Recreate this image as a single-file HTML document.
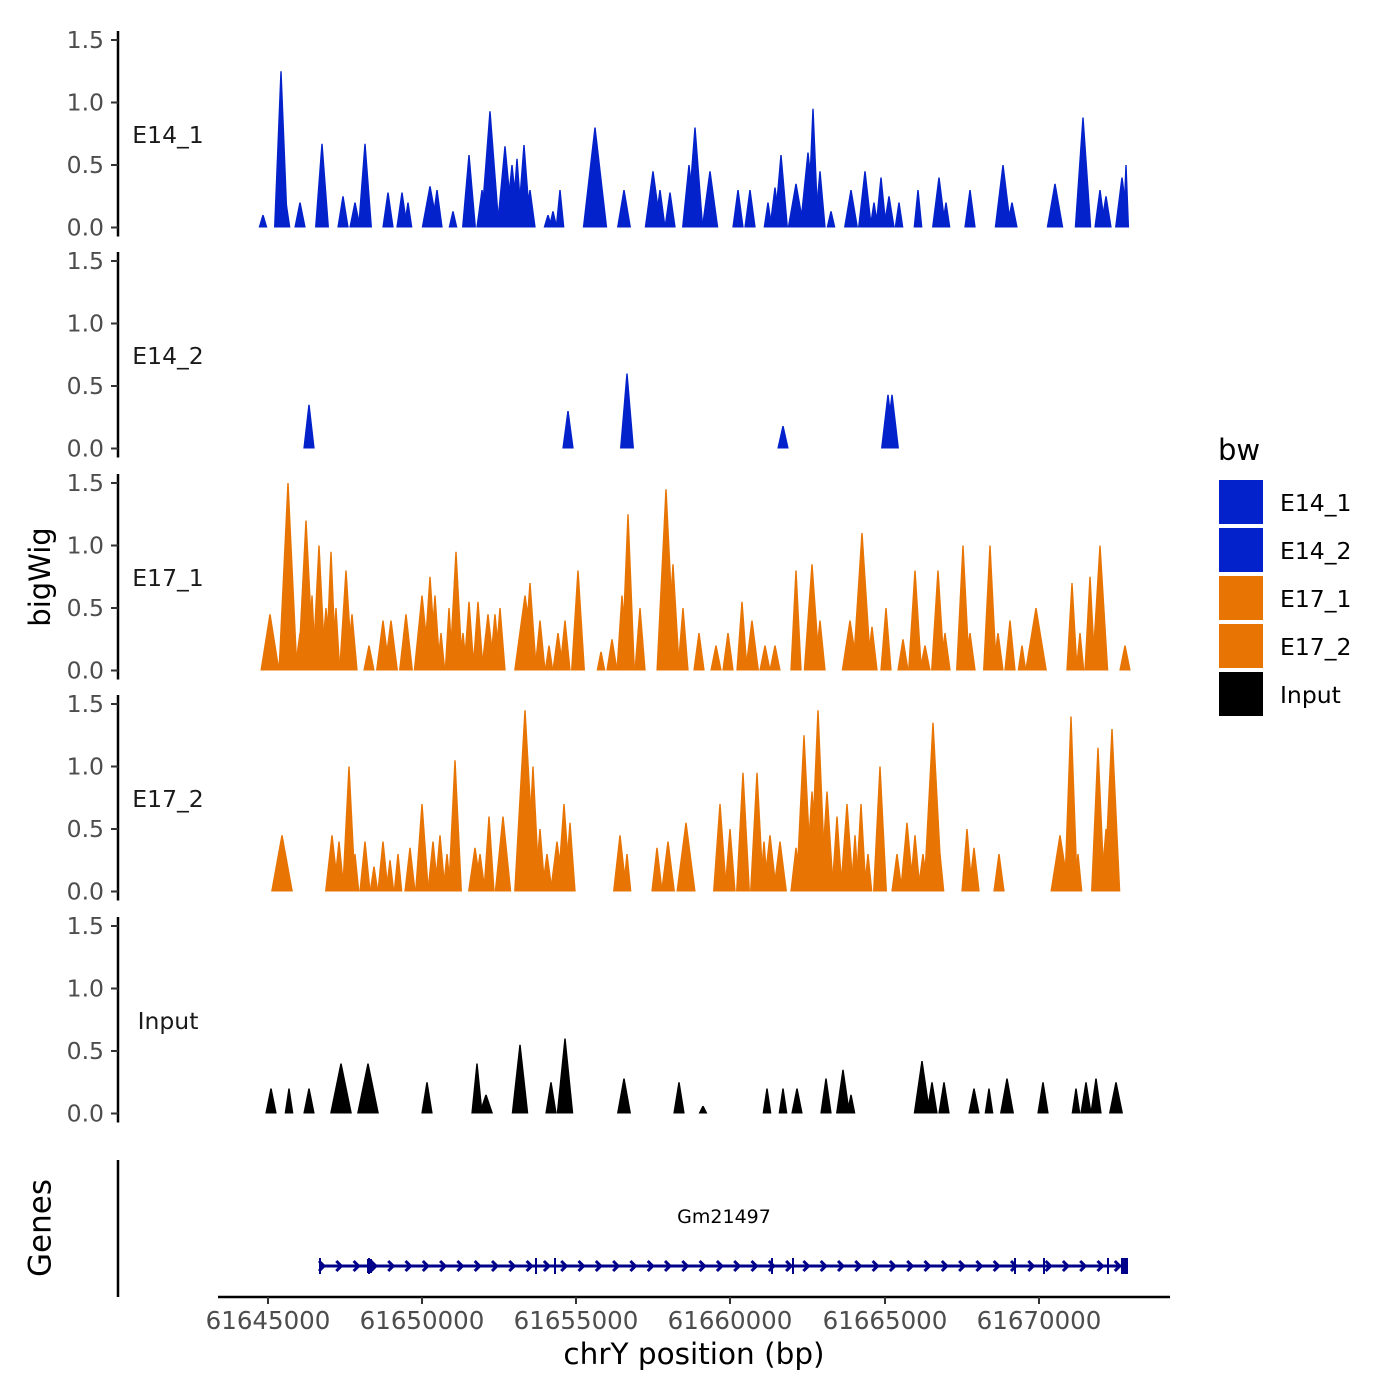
<!DOCTYPE html>
<html><head><meta charset="utf-8"><style>
html,body{margin:0;padding:0;background:#fff;}
svg{display:block;font-family:"DejaVu Sans","Liberation Sans",sans-serif;}
</style></head><body>
<svg id="s" width="1400" height="1400" viewBox="0 0 1400 1400" xmlns="http://www.w3.org/2000/svg">
<rect width="1400" height="1400" fill="#fff"/>
<g id="g"></g>
<text x="42" y="577" font-size="29" text-anchor="middle" dominant-baseline="middle" transform="rotate(-90 42 577)" fill="#000">bigWig</text>
<text x="42" y="1228" font-size="31" text-anchor="middle" dominant-baseline="middle" transform="rotate(-90 42 1228)" fill="#000">Genes</text>
<line x1="118" y1="1160" x2="118" y2="1297" stroke="#000" stroke-width="2.5"/>
<line x1="218" y1="1297" x2="1170" y2="1297" stroke="#000" stroke-width="2.5"/>
<text x="724" y="1223" font-size="19" text-anchor="middle" fill="#000">Gm21497</text>
<line x1="320" y1="1266" x2="1127" y2="1266" stroke="#00008b" stroke-width="3"/>
<g font-size="24.5" fill="#4d4d4d" text-anchor="middle">
<text x="268" y="1329">61645000</text><text x="422" y="1329">61650000</text>
<text x="576" y="1329">61655000</text><text x="730" y="1329">61660000</text>
<text x="885" y="1329">61665000</text><text x="1039" y="1329">61670000</text>
</g>
<g stroke="#333" stroke-width="2">
<line x1="268" y1="1297" x2="268" y2="1304"/><line x1="422" y1="1297" x2="422" y2="1304"/>
<line x1="576" y1="1297" x2="576" y2="1304"/><line x1="730" y1="1297" x2="730" y2="1304"/>
<line x1="885" y1="1297" x2="885" y2="1304"/><line x1="1039" y1="1297" x2="1039" y2="1304"/>
</g>
<text x="694" y="1364" font-size="29.5" text-anchor="middle" fill="#000">chrY position (bp)</text>
<text x="1218" y="460" font-size="29" fill="#000">bw</text>
<rect x="1219" y="480" width="44" height="44" fill="#0322cc"/>
<rect x="1219" y="528" width="44" height="44" fill="#0322cc"/>
<rect x="1219" y="576" width="44" height="44" fill="#e87403"/>
<rect x="1219" y="624" width="44" height="44" fill="#e87403"/>
<rect x="1219" y="672" width="44" height="44" fill="#000"/>
<g font-size="23.5" fill="#000">
<text x="1280" y="511">E14_1</text><text x="1280" y="559">E14_2</text>
<text x="1280" y="607">E17_1</text><text x="1280" y="655">E17_2</text>
<text x="1280" y="703">Input</text>
</g>
</svg>
<script>
var NS="http://www.w3.org/2000/svg",g=document.getElementById("g");
function el(t,a,txt){var e=document.createElementNS(NS,t);for(var k in a)e.setAttribute(k,a[k]);if(txt)e.textContent=txt;g.appendChild(e);return e;}
var B="#0322cc",O="#e87403",K="#000";
var tracks=[
["E14_1",B,[[263,.1,3],[281,1.25,5],[286,.2,3],[300,.2,4],[322,.67,5],[343,.25,4],[355,.2,4],[365,.67,5],[388,.28,4],[402,.28,4],[408,.2,3],[430,.33,6],[437,.3,4],[453,.13,3],[469,.58,5],[482,.3,4],[490,.93,7],[497,.15,3],[505,.65,6],[512,.5,5],[517,.55,4],[524,.66,5],[530,.3,4],[548,.1,3],[553,.13,3],[560,.3,3],[595,.8,9],[624,.3,5],[653,.45,6],[660,.3,4],[670,.28,4],[689,.5,5],[695,.8,6],[710,.45,6],[738,.3,4],[750,.3,4],[768,.2,3],[775,.32,4],[781,.58,5],[796,.35,6],[808,.6,6],[813,.95,4],[820,.45,4],[831,.13,3],[851,.3,5],[865,.45,5],[874,.2,3],[881,.4,4],[889,.25,4],[899,.2,3],[918,.3,3],[939,.4,5],[946,.2,3],[970,.3,4],[1003,.5,6],[1012,.2,4],[1055,.35,6],[1083,.88,6],[1100,.3,4],[1106,.25,4],[1122,.4,5],[1126,.5,2]]],
["E14_2",B,[[309,.35,4],[568,.3,4],[627,.6,5],[783,.18,4],[888,.43,5],[892,.43,5]]],
["E17_1",O,[[270,.45,7],[284,.6,4],[288,1.5,7],[300,.3,4],[306,1.2,6],[312,.6,3],[319,1.0,5],[326,.5,4],[331,.95,4],[336,.5,3],[346,.8,5],[352,.45,4],[369,.2,4],[383,.4,5],[391,.4,5],[406,.45,5],[422,.6,6],[430,.75,5],[435,.6,4],[441,.3,3],[449,.5,3],[456,.95,5],[463,.3,3],[469,.55,4],[478,.55,4],[488,.45,5],[495,.45,4],[500,.5,4],[525,.6,8],[530,.7,5],[540,.4,4],[549,.2,3],[558,.3,4],[565,.4,4],[578,.8,5],[601,.15,3],[612,.25,4],[622,.6,4],[628,1.25,5],[640,.5,4],[666,1.45,7],[673,.85,5],[683,.5,4],[699,.3,4],[716,.2,4],[728,.3,4],[742,.55,4],[752,.4,5],[765,.2,4],[775,.2,4],[796,.8,4],[812,.85,6],[820,.4,4],[850,.4,6],[862,1.1,7],[872,.35,4],[886,.5,4],[903,.25,4],[915,.8,5],[925,.2,4],[938,.8,5],[945,.3,4],[963,1.0,5],[970,.3,4],[990,1.0,5],[998,.3,4],[1010,.4,4],[1022,.2,3],[1036,.5,8],[1072,.7,4],[1080,.3,3],[1090,.75,4],[1100,1.0,6],[1125,.2,4]]],
["E17_2",O,[[282,.45,8],[332,.45,5],[339,.4,4],[349,1.0,5],[355,.3,3],[365,.4,4],[374,.2,3],[383,.4,4],[390,.25,3],[398,.3,3],[410,.35,4],[422,.7,5],[433,.4,4],[440,.45,4],[447,.3,3],[455,1.05,5],[475,.35,5],[480,.3,4],[489,.6,4],[503,.6,6],[525,1.45,8],[533,1.0,5],[540,.5,4],[547,.3,4],[557,.4,5],[564,.7,5],[570,.55,4],[620,.45,5],[627,.3,3],[657,.35,4],[668,.4,5],[686,.55,7],[720,.7,5],[730,.5,4],[743,.95,5],[757,.95,5],[764,.4,3],[770,.45,5],[780,.4,5],[796,.35,4],[804,1.25,6],[812,.8,5],[818,1.45,6],[827,.8,5],[837,.6,4],[847,.7,5],[855,.45,3],[861,.7,4],[868,.3,3],[880,1.0,5],[897,.3,4],[907,.55,5],[915,.45,4],[923,.3,4],[933,1.35,7],[940,.3,3],[967,.5,4],[974,.35,4],[999,.3,4],[1060,.45,7],[1071,1.4,5],[1078,.3,3],[1098,1.15,5],[1106,.5,4],[1112,1.3,6]]],
["Input",K,[[271,.2,4],[289,.2,3],[309,.2,4],[341,.4,8],[368,.4,8],[427,.25,4],[477,.4,4],[486,.15,5],[520,.55,6],[551,.25,4],[565,.6,6],[624,.28,5],[679,.25,4],[703,.06,3],[767,.2,3],[783,.2,3],[797,.2,4],[826,.28,4],[843,.35,5],[851,.15,3],[922,.42,6],[932,.25,4],[944,.25,4],[974,.2,4],[989,.2,3],[1007,.28,5],[1043,.25,4],[1076,.2,3],[1086,.25,4],[1096,.28,4],[1116,.25,5]]]
];
var tops=[40,261,483,704,926],H=187.5;
tracks.forEach(function(t,i){
 var y0=tops[i]+H,sc=H/1.5;
 t[2].forEach(function(p){
  var w=p[2]*1.3+0.5;
  el("polygon",{points:(p[0]-w)+","+y0+" "+(p[0]-0.7)+","+(y0-p[1]*sc)+" "+(p[0]+0.7)+","+(y0-p[1]*sc)+" "+(p[0]+w)+","+y0,fill:t[1]});
 });
 el("line",{x1:118,y1:tops[i]-9,x2:118,y2:y0+9,stroke:"#000","stroke-width":2.5});
 for(var k=0;k<4;k++){var yy=y0-k*0.5*sc;
  el("line",{x1:111,y1:yy,x2:118,y2:yy,stroke:"#333","stroke-width":2});
  el("text",{x:104,y:yy+8,"font-size":23.5,fill:"#4d4d4d","text-anchor":"end"},(k*0.5).toFixed(1));}
 el("text",{x:168,y:tops[i]+103,"font-size":23.5,fill:"#1a1a1a","text-anchor":"middle"},t[0]);
});
for(var x=322;x<1125;x+=17.3){
 el("polyline",{points:(x-3)+",1261 "+(x+2)+",1266 "+(x-3)+",1271",fill:"none",stroke:"#00008b","stroke-width":3});
}
[320,369,536,555,772,793,1015,1044,1108,1124].forEach(function(x){el("line",{x1:x,y1:1258,x2:x,y2:1274,stroke:"#00008b","stroke-width":2});});
el("rect",{x:367,y:1259,width:5,height:14,fill:"#00008b"});
el("rect",{x:1121,y:1258,width:7,height:16,fill:"#00008b"});
</script>
</body></html>
